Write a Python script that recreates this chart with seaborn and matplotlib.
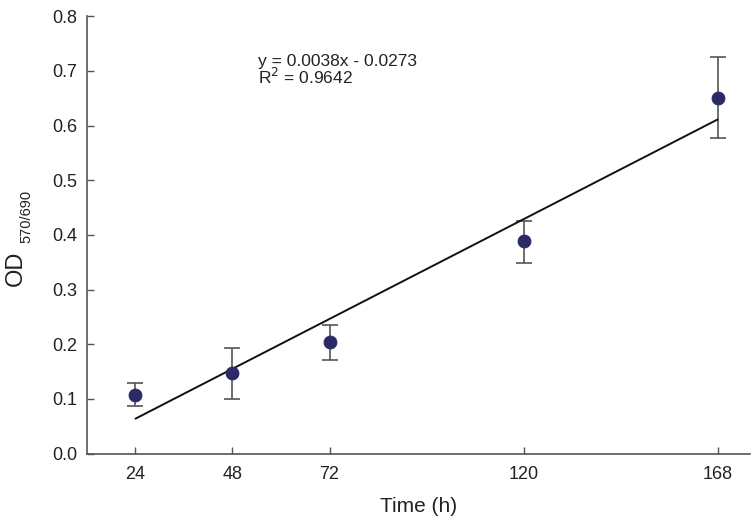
"""OD570/690 随时间变化的散点 + 线性趋势线，输出 out.png。"""

import matplotlib.pyplot as plt
import numpy as np
import pandas as pd
import seaborn as sns

# 数据
time_h = [24, 48, 72, 120, 168]
od_mean = [0.108, 0.148, 0.204, 0.388, 0.651]
err_low = [0.087, 0.099, 0.171, 0.348, 0.577]
err_high = [0.129, 0.194, 0.235, 0.425, 0.725]

# 趋势线方程 y = 0.0038x - 0.0273
slope = 0.0038
intercept = -0.0273
r2 = 0.9642

x_ticks = [24, 48, 72, 120, 168]
y_ticks = [0.0, 0.1, 0.2, 0.3, 0.4, 0.5, 0.6, 0.7, 0.8]

TEXT = "#222222"
AXIS = "#555555"


def main() -> None:
    sns.set_theme(style="ticks")
    plt.rcParams["font.family"] = ["Liberation Sans", "DejaVu Sans"]

    df = pd.DataFrame({"time": time_h, "od": od_mean})
    mean = np.array(od_mean)
    yerr = np.vstack([mean - np.array(err_low), np.array(err_high) - mean])

    fig = plt.figure(figsize=(7.56, 5.22), dpi=100)
    ax = fig.add_axes([0.115, 0.131, 0.877, 0.838])

    ax.errorbar(time_h, od_mean, yerr=yerr, fmt="none", ecolor=AXIS,
                elinewidth=1.2, capsize=5.5, capthick=1.2, zorder=2)

    line_x = np.array([time_h[0], time_h[-1]])
    sns.lineplot(x=line_x, y=slope * line_x + intercept, ax=ax,
                 color="#111111", lw=1.4, zorder=3)

    sns.scatterplot(data=df, x="time", y="od", ax=ax, s=85,
                    color="#2b2a66", edgecolor="#2b2a66", zorder=4)

    ax.text(54.3, 0.717, f"y = {slope}x - {abs(intercept)}", fontsize=12.5,
            va="center", color=TEXT)
    ax.text(54.3, 0.688, r"R$^{2}$ = " + f"{r2}", fontsize=12.5,
            va="center", color=TEXT)

    ax.set_xlim(12, 176)
    ax.set_ylim(0, 0.8)
    ax.set_xticks(x_ticks)
    ax.set_yticks(y_ticks)
    ax.set_yticklabels([f"{v:.1f}" for v in y_ticks])
    ax.tick_params(direction="in", length=5, width=1, labelsize=13,
                   colors=AXIS, labelcolor=TEXT)
    ax.tick_params(axis="x", pad=9)
    ax.tick_params(axis="y", pad=7)

    for side in ("top", "right"):
        ax.spines[side].set_visible(False)
    for side in ("left", "bottom"):
        ax.spines[side].set_color(AXIS)
        ax.spines[side].set_linewidth(1.2)

    ax.set_xlabel("")
    ax.set_ylabel("")
    fig.text(419 / 756, 1 - 507 / 522, "Time (h)", fontsize=15,
             ha="center", va="center", color=TEXT)
    # 纵轴标签：OD + 下标 570/690
    fig.text(15.5 / 756, 1 - 268 / 522, "OD", fontsize=17, rotation=90,
             ha="center", va="center", color=TEXT)
    fig.text(26 / 756, 1 - 216 / 522, "570/690", fontsize=10.5, rotation=90,
             ha="center", va="center", color=TEXT)

    fig.savefig("out.png", dpi=100)
    plt.close(fig)


if __name__ == "__main__":
    main()
